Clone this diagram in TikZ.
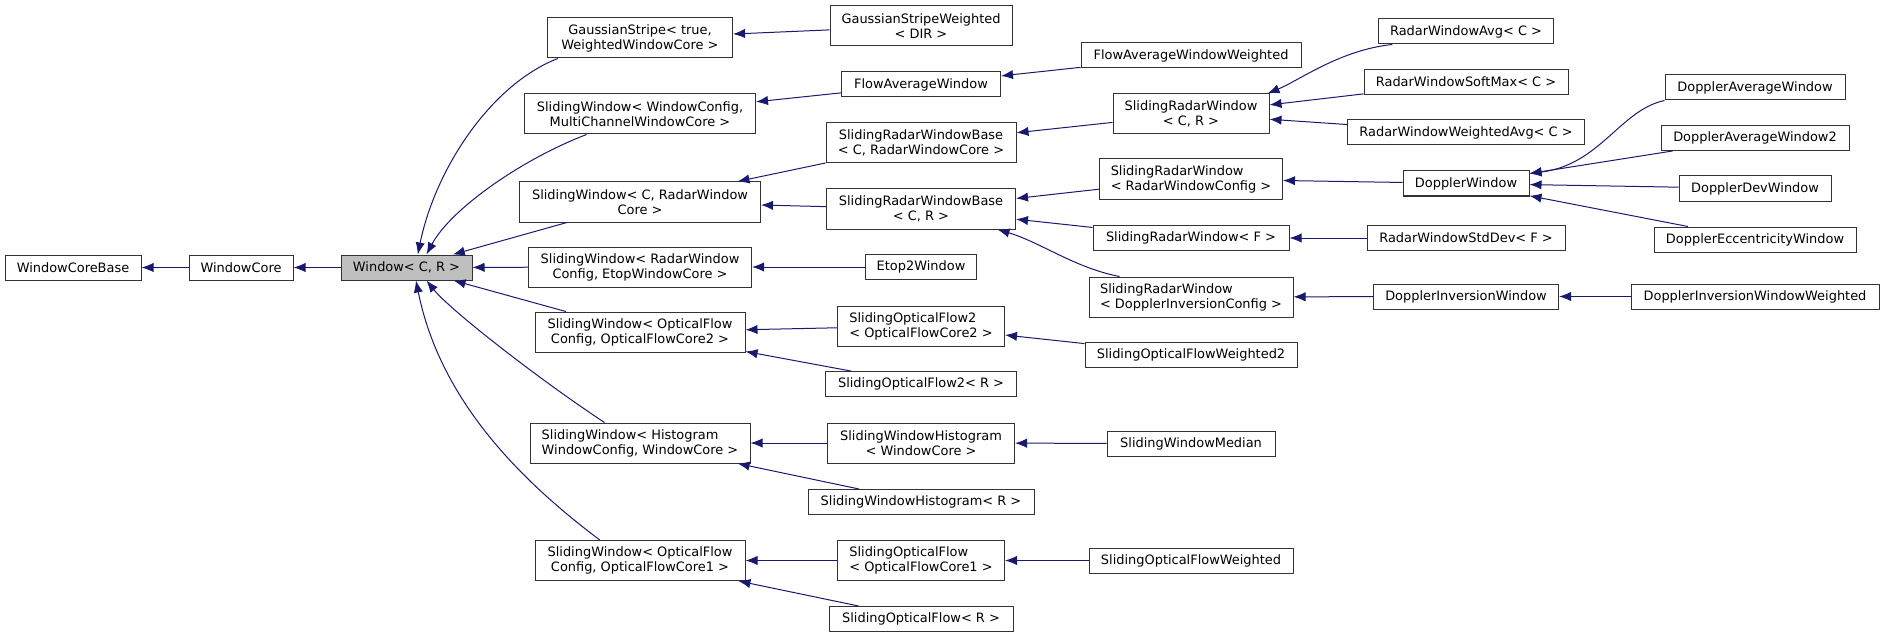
\documentclass[tikz,border=0pt]{standalone}
\usepackage{fontspec}
\newfontfamily\dejavu{DejaVu Sans}
\usepackage{tikz}
\usetikzlibrary{arrows.meta}
\definecolor{edgeblue}{RGB}{25,25,112}
\tikzset{>={Latex[length=9pt,width=7pt]}}
\tikzset{boxw/.style={minimum width=#1*0.75pt}}
\tikzstyle{cls}=[rectangle,draw=black!80,fill=white,line width=0.75pt,inner sep=2pt,align=center,minimum height=18.75pt,font=\dejavu\fontsize{9.7}{11.25}\selectfont]
\tikzstyle{tall}=[minimum height=30pt]
\tikzstyle{base}=[fill=black!25]
\tikzstyle{inh}=[<-,draw=edgeblue,line width=0.75pt]

\begin{document}
\begin{tikzpicture}[x=0.75pt,y=-0.75pt]
\useasboundingbox (0,0) rectangle (1884,638);
\def \cA {640};
\def \cB {921};
\def \cC {1191};
\def \cD {1466};
\def \cE {1755};

\node[cls,boxw=136] (wcb) at (73,267.5) {WindowCoreBase};
\node[cls,boxw=104] (wc) at (241,267.5) {WindowCore};
\node[cls,base,boxw=131] (win) at (406.5,267.5) {Window< C, R >};

\node[cls,tall,boxw=185] (gs) at (\cA,38) {GaussianStripe< true,\\ WeightedWindowCore >};
\node[cls,tall,boxw=231] (swmc) at (\cA,114) {SlidingWindow< WindowConfig,\\ MultiChannelWindowCore >};
\node[cls,tall,boxw=241] (swrc) at (\cA,202) {SlidingWindow< C, RadarWindow\\ Core >};
\node[cls,tall,boxw=223] (swetop) at (\cA,267) {SlidingWindow< RadarWindow\\ Config, EtopWindowCore >};
\node[cls,tall,boxw=210] (swof2) at (\cA,332) {SlidingWindow< OpticalFlow\\ Config, OpticalFlowCore2 >};
\node[cls,tall,boxw=220,align=left] (swhist) at (\cA,443) {SlidingWindow< Histogram\\ WindowConfig, WindowCore >};
\node[cls,tall,boxw=210] (swof1) at (\cA,560.5) {SlidingWindow< OpticalFlow\\ Config, OpticalFlowCore1 >};

\node[cls,tall,boxw=182] (gsw) at (\cB,26) {GaussianStripeWeighted\\ < DIR >};
\node[cls,boxw=159] (faw) at (\cB,84.5) {FlowAverageWindow};
\node[cls,tall,boxw=190] (srwbrc) at (\cB,143) {SlidingRadarWindowBase\\ < C, RadarWindowCore >};
\node[cls,tall,boxw=189] (srwb) at (\cB,209) {SlidingRadarWindowBase\\ < C, R >};
\node[cls,boxw=111] (etop2) at (\cB,267) {Etop2Window};
\node[cls,tall,boxw=167,align=left] (sof2c) at (\cB,326) {SlidingOpticalFlow2\\ < OpticalFlowCore2 >};
\node[cls,boxw=191] (sof2r) at (\cB,384) {SlidingOpticalFlow2< R >};
\node[cls,tall,boxw=187] (swhwc) at (\cB,443) {SlidingWindowHistogram\\ < WindowCore >};
\node[cls,boxw=226] (swhr) at (\cB,502) {SlidingWindowHistogram< R >};
\node[cls,tall,boxw=167,align=left] (sofc1) at (\cB,560.5) {SlidingOpticalFlow\\ < OpticalFlowCore1 >};
\node[cls,boxw=184] (sofr) at (\cB,619) {SlidingOpticalFlow< R >};

\node[cls,boxw=220] (faww) at (\cC,55.5) {FlowAverageWindowWeighted};
\node[cls,tall,boxw=156] (srw) at (\cC,114) {SlidingRadarWindow\\ < C, R >};
\node[cls,tall,boxw=183,align=left] (srwcfg) at (\cC,179) {SlidingRadarWindow\\ < RadarWindowConfig >};
\node[cls,boxw=196] (srwf) at (\cC,238) {SlidingRadarWindow< F >};
\node[cls,tall,boxw=204,align=left] (srwdic) at (\cC,297) {SlidingRadarWindow\\ < DopplerInversionConfig >};
\node[cls,boxw=212] (sofw2) at (\cC,355) {SlidingOpticalFlowWeighted2};
\node[cls,boxw=168] (swmed) at (\cC,443.5) {SlidingWindowMedian};
\node[cls,boxw=204] (sofw) at (\cC,560.5) {SlidingOpticalFlowWeighted};

\node[cls,boxw=175] (rwavg) at (\cD,31.5) {RadarWindowAvg< C >};
\node[cls,boxw=204] (rwsm) at (\cD,82) {RadarWindowSoftMax< C >};
\node[cls,boxw=237] (rwwavg) at (\cD,132.5) {RadarWindowWeightedAvg< C >};
\node[cls,boxw=126] (dw) at (\cD,183.5) {DopplerWindow};
\node[cls,boxw=198] (rwsd) at (\cD,238) {RadarWindowStdDev< F >};
\node[cls,boxw=185] (diw) at (\cD,296.5) {DopplerInversionWindow};

\node[cls,boxw=180] (daw) at (\cE,87.5) {DopplerAverageWindow};
\node[cls,boxw=188] (daw2) at (\cE,138) {DopplerAverageWindow2};
\node[cls,boxw=152] (ddw) at (\cE,188.5) {DopplerDevWindow};
\node[cls,boxw=202] (dew) at (\cE,239.5) {DopplerEccentricityWindow};
\node[cls,boxw=248] (diww) at (\cE,296.5) {DopplerInversionWindowWeighted};

\foreach \p/\c in {wcb/wc, wc/win, win/swrc, win/swetop, win/swof2, gs/gsw, swmc/faw, faw/faww,
    swrc/srwbrc, swrc/srwb, srwbrc/srw, srwb/srwcfg, srwb/srwf, swetop/etop2, swof2/sof2c,
    swof2/sof2r, sof2c/sofw2, swhist/swhwc, swhist/swhr, swhwc/swmed, swof1/sofc1, swof1/sofr,
    sofc1/sofw, srw/rwsm, srw/rwwavg, srwcfg/dw, srwf/rwsd, srwdic/diw, diw/diww, dw/daw2,
    dw/ddw, dw/dew} {
	\draw[inh] (\p) -- (\c);
};

\draw[inh] (win.49) .. controls (435,170) and (490,85) .. (gs.194);
\draw[inh] (win.33) .. controls (450,210) and (520,160) .. (swmc.201);
\draw[inh] (win.327) .. controls (450,310) and (540,380) .. (swhist.150);
\draw[inh] (win.306) .. controls (440,400) and (520,480) .. (swof1.153);
\draw[inh] (srwb.345) .. controls (1040,242) and (1075,268) .. (srwdic.164);
\draw[inh] (srw.15) .. controls (1300,80) and (1340,50) .. (rwavg.190);
\draw[inh] (dw.9) .. controls (1600,165) and (1620,110) .. (daw.south west);

\end{tikzpicture}
\end{document}
